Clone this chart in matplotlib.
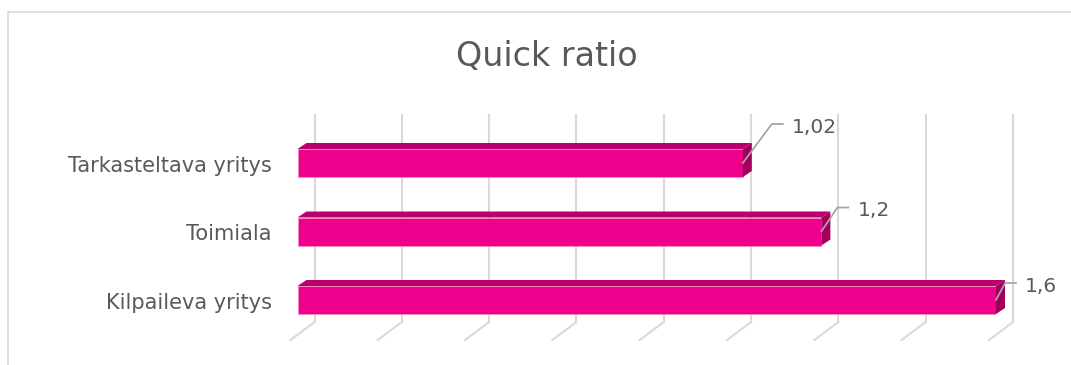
import numpy as np
import matplotlib.pyplot as plt
from matplotlib.patches import Polygon
from matplotlib.lines import Line2D

# data
categories = ['Tarkasteltava yritys', 'Toimiala', 'Kilpaileva yritys']
values = [1.02, 1.2, 1.6]
value_labels = ['1,02', '1,2', '1,6']
ticks = [0, 0.2, 0.4, 0.6, 0.8, 1.0, 1.2, 1.4, 1.6]

# styles
front_col = '#EC008C'
top_col = '#B8006C'
side_col = '#A0005C'
grid_col = '#D9D9D9'
text_col = '#595959'
leader_col = '#A6A6A6'

W, H = 1071, 365
fig = plt.figure(figsize=(W / 100, H / 100), dpi=100)

# axes: x=0 at px 297.5, x=1.6 at px 996; rows 68.5 px apart
ax_left, ax_w = 297.5, 698.5
ax_bottom, ax_h = 334.25, 205.5
ax = fig.add_axes([ax_left / W, (H - ax_bottom) / H, ax_w / W, ax_h / H])
ax.set_xlim(0, 1.6)
ax.set_ylim(-0.5, 2.5)
ax.axis('off')

# pixel sizes in data units
px_x = 1.6 / ax_w
px_y = 3.0 / ax_h


def ydata(py):
    # pixel row from top -> data y
    return -0.5 + (ax_bottom - py) * px_y


ypos = np.arange(len(categories))[::-1]
bar_h = 28 * px_y
dx, dy = 9 * px_x, 6 * px_y

# 3d-ish gridlines (back wall + floor)
for t in ticks:
    xb = t + 17 * px_x
    ax.add_line(Line2D([xb, xb], [ydata(115), ydata(322)], color=grid_col,
                       lw=1.5, clip_on=False, zorder=1))
    ax.add_line(Line2D([xb, t - 7 * px_x], [ydata(322), ydata(340)], color=grid_col,
                       lw=1.5, clip_on=False, zorder=1))

# bars
ax.barh(ypos, values, height=bar_h, color=front_col, edgecolor='#F48CC4',
        linewidth=0.6, zorder=3)
for y, v in zip(ypos, values):
    yt = y + bar_h / 2
    yb = y - bar_h / 2
    ax.add_patch(Polygon([(0, yt), (v, yt), (v + dx, yt + dy), (dx, yt + dy)],
                         closed=True, facecolor=top_col, edgecolor='none',
                         zorder=3, clip_on=False))
    ax.add_patch(Polygon([(v, yb), (v, yt), (v + dx, yt + dy), (v + dx, yb + dy)],
                         closed=True, facecolor=side_col, edgecolor='none',
                         zorder=3, clip_on=False))

# data labels with leader lines (offsets in px)
leader_up = [(29, 39), (16, 24), (9, 17)]
for y, v, lab, (lx, ly) in zip(ypos, values, value_labels, leader_up):
    x0, y0 = v, y
    x1, y1 = v + lx * px_x, y + ly * px_y
    x2 = x1 + 11 * px_x
    ax.add_line(Line2D([x0, x1, x2], [y0, y1, y1], color=leader_col, lw=1.3,
                       clip_on=False, zorder=4))
    ax.text(x2 + 9 * px_x, y1 - 3 * px_y, lab, ha='left', va='center',
            fontsize=14.5, color=text_col, clip_on=False)

# category labels
for y, c in zip(ypos, categories):
    ax.text(-25.5 * px_x, y - 3 * px_y, c, ha='right', va='center',
            fontsize=15, color=text_col, clip_on=False)

# title
fig.text(547 / W, 1 - 57 / H, 'Quick ratio', ha='center', va='center',
         fontsize=24, color=text_col)

# chart border (runs off the right and bottom)
fig.add_artist(Line2D([8 / W, 1], [1 - 12 / H, 1 - 12 / H], color=grid_col,
                      lw=1.2, transform=fig.transFigure))
fig.add_artist(Line2D([8 / W, 8 / W], [1 - 12 / H, 0], color=grid_col,
                      lw=1.2, transform=fig.transFigure))

fig.savefig('out.png', dpi=100, facecolor='white')
